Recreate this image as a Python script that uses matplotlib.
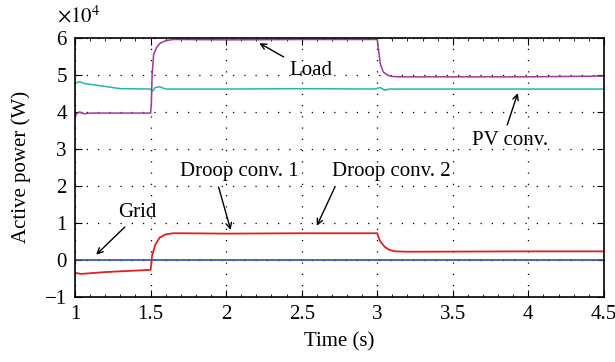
import numpy as np
import matplotlib.pyplot as plt
from matplotlib.ticker import MultipleLocator

plt.rcParams['font.family'] = ['Liberation Serif', 'DejaVu Serif']
plt.rcParams['mathtext.fontset'] = 'stix'

# power values in units of 1e4 W
t_load = [1.0, 1.01, 1.03, 1.06, 1.1, 1.3, 1.5, 1.505, 1.51, 1.52, 1.54, 1.56, 1.6, 1.65, 1.7,
          2.0, 2.5, 3.0, 3.005, 3.02, 3.04, 3.07, 3.1, 3.15, 3.3, 4.0, 4.5]
p_load = [3.87, 3.95, 4.0, 3.95, 3.97, 3.97, 3.97, 4.2, 5.0, 5.55, 5.75, 5.85, 5.93, 5.96, 5.96,
          5.95, 5.96, 5.96, 5.8, 5.3, 5.08, 4.99, 4.96, 4.95, 4.95, 4.95, 4.97]

t_pv = [1.0, 1.03, 1.06, 1.15, 1.3, 1.5, 1.505, 1.515, 1.53, 1.56, 1.6, 2.0, 2.5,
        2.98, 3.02, 3.05, 3.08, 3.2, 4.0, 4.5]
p_pv = [4.78, 4.82, 4.77, 4.72, 4.63, 4.62, 4.58, 4.56, 4.66, 4.68, 4.62, 4.62, 4.63,
        4.62, 4.66, 4.59, 4.62, 4.62, 4.62, 4.62]

t_droop = [1.0, 1.04, 1.2, 1.4, 1.5, 1.505, 1.51, 1.53, 1.56, 1.6, 1.65, 1.7, 2.0, 2.5,
           3.0, 3.005, 3.02, 3.05, 3.08, 3.12, 3.2, 4.0, 4.5]
p_droop = [-0.35, -0.38, -0.33, -0.29, -0.27, -0.1, 0.12, 0.4, 0.6, 0.69, 0.72, 0.72, 0.71, 0.72,
           0.72, 0.65, 0.5, 0.35, 0.27, 0.23, 0.22, 0.23, 0.23]

t_grid = [1.0, 4.5]
p_grid = [0.0, 0.0]

xticks = [1, 1.5, 2, 2.5, 3, 3.5, 4, 4.5]
xlabels = ['1', '1.5', '2', '2.5', '3', '3.5', '4', '4.5']
yticks = [-1, 0, 1, 2, 3, 4, 5, 6]
ylabels = ['\u22121', '0', '1', '2', '3', '4', '5', '6']

fs = 15

fig = plt.figure(figsize=(6.15, 3.62), dpi=100)
ax = fig.add_axes([0.122, 0.18, 0.86, 0.715])

ax.plot(t_grid, p_grid, color='#2f4fa8', lw=1.2)
ax.plot(t_pv, p_pv, color='#22b5b5', lw=1.1)
ax.plot(t_load, p_load, color='#a0379e', lw=1.1)
ax.plot(t_droop, p_droop, color='#e02020', lw=1.3)

ax.set_xlim(1, 4.5)
ax.set_ylim(-1, 6)
ax.set_xticks(xticks)
ax.set_xticklabels(xlabels)
ax.xaxis.set_minor_locator(MultipleLocator(0.1))
ax.set_yticks(yticks)
ax.set_yticklabels(ylabels)
ax.tick_params(which='both', direction='in', top=True, right=True, labelsize=fs)
ax.tick_params(which='major', length=5, pad=6)
ax.tick_params(which='minor', length=2.5)
ax.grid(True, which='major', color='black', linestyle=(0, (1, 8)), linewidth=0.9)
for s in ax.spines.values():
    s.set_linewidth(1.2)

ax.set_xlabel('Time (s)', fontsize=fs, labelpad=6)
ax.set_ylabel('Active power (W)', fontsize=fs, labelpad=10)
fig.text(0.093, 0.925, r'$\times10^4$', fontsize=fs, ha='left', va='bottom')

arrow = dict(arrowstyle='->', color='black', lw=1.0, shrinkA=0, shrinkB=0)
ax.annotate('', xy=(2.22, 5.86), xytext=(2.38, 5.49), arrowprops=arrow)
ax.text(2.56, 5.13, 'Load', fontsize=fs, ha='center', va='center')
ax.annotate('', xy=(3.93, 4.51), xytext=(3.86, 3.65), arrowprops=arrow)
ax.text(3.88, 3.22, 'PV conv.', fontsize=fs, ha='center', va='center')
ax.annotate('', xy=(2.03, 0.81), xytext=(1.95, 1.97), arrowprops=arrow)
ax.text(2.09, 2.38, 'Droop conv. 1', fontsize=fs, ha='center', va='center')
ax.annotate('', xy=(2.6, 0.92), xytext=(2.72, 1.97), arrowprops=arrow)
ax.text(3.09, 2.38, 'Droop conv. 2', fontsize=fs, ha='center', va='center')
ax.annotate('', xy=(1.14, 0.14), xytext=(1.33, 0.89), arrowprops=arrow)
ax.text(1.41, 1.27, 'Grid', fontsize=fs, ha='center', va='center')

fig.savefig('out.png', dpi=100)
